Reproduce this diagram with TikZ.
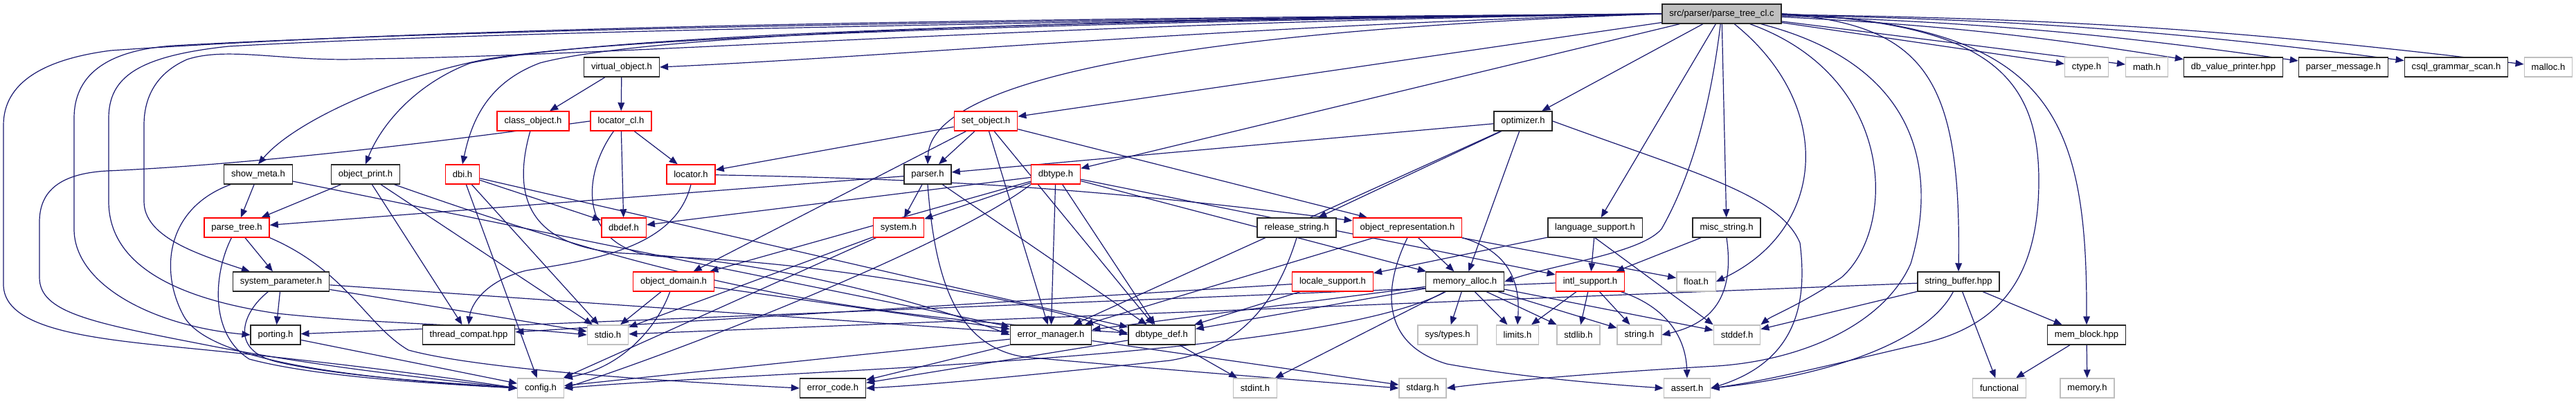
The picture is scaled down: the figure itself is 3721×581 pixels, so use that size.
\documentclass[tikz,border=0pt]{standalone}
\usepackage{fontspec}
\setmainfont{Liberation Sans}
\usetikzlibrary{arrows.meta}
\definecolor{depblue}{HTML}{191970}
\definecolor{sysgray}{HTML}{BFBFBF}
\newcommand\hdrfont{\fontsize{9.3pt}{11pt}\selectfont}
\pgfdeclarelayer{edges}
\pgfsetlayers{edges,main}
\tikzset{
  hdr/.style={draw=black!85,line width=0.35mm,fill=white,minimum height=7mm,inner xsep=2.6mm,inner ysep=0pt,font=\hdrfont},
  hdr cut/.style={hdr,draw=red},
  hdr sys/.style={hdr,draw=sysgray},
  hdr src/.style={hdr,fill=sysgray},
  dep/.style={-{Triangle[length=3mm,width=2.4mm]},draw=depblue,line width=0.3mm},
}

\begin{document}
\begin{tikzpicture}[x=0.25mm,y=0.25mm]
  \useasboundingbox (0,0) rectangle (3721,581);
  \node[hdr src] (src) at (2487,561) {src/parser/parse\_tree\_cl.c};
  \node[hdr] (vobj) at (898,484) {virtual\_object.h};
  \node[hdr sys] (ctype) at (3014,484) {ctype.h};
  \node[hdr sys] (math) at (3101,484) {math.h};
  \node[hdr] (dbvalprint) at (3226,484) {db\_value\_printer.hpp};
  \node[hdr] (parsermsg) at (3385,484) {parser\_message.h};
  \node[hdr] (csqlscan) at (3548,484) {csql\_grammar\_scan.h};
  \node[hdr sys] (malloc) at (3681,484) {malloc.h};
  \node[hdr cut] (clsobj) at (770,406) {class\_object.h};
  \node[hdr cut] (loccl) at (897,406) {locator\_cl.h};
  \node[hdr cut] (setobj) at (1424,406) {set\_object.h};
  \node[hdr] (optimizer) at (2200,406) {optimizer.h};
  \node[hdr] (showmeta) at (373,329) {show\_meta.h};
  \node[hdr] (objprint) at (528,329) {object\_print.h};
  \node[hdr cut] (dbi) at (668,329) {dbi.h};
  \node[hdr cut] (locator) at (998,329) {locator.h};
  \node[hdr] (parser) at (1340,329) {parser.h};
  \node[hdr cut] (dbtype) at (1525,329) {dbtype.h};
  \node[hdr cut] (parsetree) at (342,252) {parse\_tree.h};
  \node[hdr cut] (dbdef) at (901,252) {dbdef.h};
  \node[hdr cut] (system) at (1298,252) {system.h};
  \node[hdr] (relstr) at (1873,252) {release\_string.h};
  \node[hdr cut] (objrep) at (2033,252) {object\_representation.h};
  \node[hdr] (langsup) at (2304,252) {language\_support.h};
  \node[hdr] (miscstr) at (2494,252) {misc\_string.h};
  \node[hdr] (sysparam) at (406,174) {system\_parameter.h};
  \node[hdr cut] (objdomain) at (973,174) {object\_domain.h};
  \node[hdr cut] (localesup) at (1925,174) {locale\_support.h};
  \node[hdr] (memalloc) at (2116,174) {memory\_alloc.h};
  \node[hdr cut] (intlsup) at (2297,174) {intl\_support.h};
  \node[hdr sys] (float) at (2450,174) {float.h};
  \node[hdr] (strbuf) at (2829,174) {string\_buffer.hpp};
  \node[hdr] (porting) at (398,97) {porting.h};
  \node[hdr] (thread) at (677,97) {thread\_compat.hpp};
  \node[hdr sys] (stdio) at (878,97) {stdio.h};
  \node[hdr] (errmgr) at (1518,97) {error\_manager.h};
  \node[hdr] (dbtypedef) at (1678,97) {dbtype\_def.h};
  \node[hdr sys] (systypes) at (2091,97) {sys/types.h};
  \node[hdr sys] (limits) at (2192,97) {limits.h};
  \node[hdr sys] (stdlib) at (2280,97) {stdlib.h};
  \node[hdr sys] (string) at (2368,97) {string.h};
  \node[hdr sys] (stddef) at (2509,97) {stddef.h};
  \node[hdr] (memblock) at (3014,97) {mem\_block.hpp};
  \node[hdr sys] (config) at (781,20) {config.h};
  \node[hdr] (errcode) at (1203,20) {error\_code.h};
  \node[hdr sys] (stdint) at (1813,20) {stdint.h};
  \node[hdr sys] (stdarg) at (2055,20) {stdarg.h};
  \node[hdr sys] (assert) at (2437,20) {assert.h};
  \node[hdr sys] (functional) at (2888,20) {functional};
  \node[hdr sys] (memory) at (3015,20) {memory.h};

  \begin{pgfonlayer}{edges}
    \foreach \u/\v in {vobj/clsobj,vobj/loccl,loccl/locator,loccl/dbdef,
      dbi/stdio,dbi/dbdef,dbi/config,dbi/dbtypedef,
      showmeta/parsetree,showmeta/errmgr,objprint/parsetree,objprint/thread,objprint/stdio,
      parsetree/sysparam,sysparam/porting,sysparam/errmgr,sysparam/stdio,porting/config,
      objdomain/stdio,objdomain/errmgr,system/config,system/stdio,
      dbtype/system,dbtype/dbdef,dbtype/errmgr,dbtype/dbtypedef,dbtype/objdomain,dbtype/memalloc,dbtype/intlsup,
      parser/parsetree,parser/system,parser/dbtypedef,
      setobj/locator,setobj/parser,setobj/objdomain,setobj/errmgr,setobj/dbtypedef,setobj/objrep,
      optimizer/parser,optimizer/relstr,optimizer/memalloc,optimizer/errmgr,
      objrep/memalloc,objrep/float,objrep/errmgr,
      langsup/localesup,langsup/intlsup,miscstr/intlsup,localesup/dbtypedef,localesup/thread,
      memalloc/systypes,memalloc/limits,memalloc/stdlib,memalloc/string,memalloc/stddef,memalloc/dbtypedef,memalloc/stdint,memalloc/errmgr,
      intlsup/limits,intlsup/stdlib,intlsup/string,intlsup/porting,
      errmgr/config,errmgr/errcode,errmgr/stdarg,dbtypedef/stdint,dbtypedef/errcode,
      strbuf/memblock,strbuf/functional,strbuf/stddef,strbuf/stdio,memblock/functional,memblock/memory,
      src/setobj,src/dbtype,src/optimizer,src/langsup,src/miscstr,src/ctype,src/math}{
      \draw[dep] (\u) -- (\v);
    }
    \foreach \v in {dbvalprint,parsermsg,csqlscan,malloc}{
      \draw[dep] (src) to[bend left=3] (\v);
    }
    % long ways round on the left
    \draw[dep] (src.west) .. controls (1500,554) and (700,545) .. (160,508)
      .. controls (60,495) and (5,460) .. (5,400) -- (5,170)
      .. controls (5,100) and (150,90) .. (300,75) .. controls (500,55) and (650,35) .. (config.west);
    \draw[dep] (src.west) .. controls (1500,552) and (700,540) .. (250,515)
      .. controls (150,508) and (107,470) .. (107,410) -- (107,250)
      .. controls (107,170) and (220,110) .. (porting.west);
    \draw[dep] (src.west) .. controls (1500,550) and (700,535) .. (330,514)
      .. controls (200,500) and (157,470) .. (157,410) -- (157,290)
      .. controls (157,200) and (250,150) .. (400,128) .. controls (550,112) and (700,112) .. (stdio.west);
    \draw[dep] (src.west) .. controls (1500,548) and (900,500) .. (531,496)
      .. controls (420,490) and (330,515) .. (270,495) .. controls (225,475) and (208,440) .. (208,400) -- (208,290)
      .. controls (208,240) and (280,215) .. (sysparam);
    \draw[dep] (loccl.west) .. controls (700,385) and (400,345) .. (155,334)
      .. controls (80,330) and (57,300) .. (57,260) -- (57,180)
      .. controls (57,130) and (130,115) .. (290,84) .. controls (450,52) and (620,34) .. (config.west);
    \draw[dep] (src.west) .. controls (1600,550) and (900,530) .. (700,495) .. controls (550,465) and (420,400) .. (showmeta.north);
    \draw[dep] (src.west) .. controls (1600,552) and (900,535) .. (680,490) .. controls (600,460) and (550,400) .. (objprint.north);
    \draw[dep] (src.west) .. controls (1600,554) and (950,535) .. (780,490) .. controls (700,460) and (680,400) .. (dbi.north);
    \draw[dep] (src.west) .. controls (1800,545) and (1300,500) .. (vobj.east);
    \draw[dep] (src.west) .. controls (1800,540) and (1345,480) .. (parser.north);
    % fan to the right
    \draw[dep] (src) .. controls (2470,420) and (2440,320) .. (2400,250) .. controls (2370,215) and (2250,200) .. (memalloc.east);
    \draw[dep] (src) .. controls (2650,430) and (2640,250) .. (float.east);
    \draw[dep] (src) .. controls (2740,470) and (2740,250) .. (2660,180) .. controls (2600,140) and (2560,125) .. (stddef.north east);
    \draw[dep] (src) .. controls (2800,480) and (2790,300) .. (2760,200) .. controls (2720,110) and (2600,60) .. (2480,52)
      .. controls (2300,42) and (2150,28) .. (stdarg.east);
    \draw[dep] (src.east) .. controls (2780,545) and (2833,470) .. (strbuf.north);
    \draw[dep] (src.east) .. controls (2860,548) and (2945,480) .. (2945,320) .. controls (2945,170) and (2880,105) .. (2766,82)
      .. controls (2650,55) and (2550,30) .. (assert.east);
    \draw[dep] (src.east) .. controls (2960,545) and (3015,420) .. (memblock.north);
    % the rest
    \draw[dep] (loccl) .. controls (835,320) and (840,215) .. (960,210) .. controls (1250,200) and (1550,130) .. (dbtypedef.west);
    \draw[dep] (clsobj) .. controls (740,300) and (760,225) .. (900,215) .. controls (1150,205) and (1400,120) .. (errmgr.west);
    \draw[dep] (locator) to[bend left=3] (objrep);
    \draw[dep] (locator.south) .. controls (975,220) and (850,205) .. (760,190) .. controls (700,175) and (680,140) .. (thread.north);
    \draw[dep] (showmeta) .. controls (240,280) and (230,190) .. (265,125) .. controls (300,60) and (500,35) .. (config.west);
    \draw[dep] (objprint) to[bend right=8] (dbtypedef);
    \draw[dep] (parsetree) .. controls (310,190) and (300,100) .. (360,62) .. controls (450,38) and (600,28) .. (config.west);
    \draw[dep] (parsetree.south east) .. controls (500,190) and (530,110) .. (590,75) .. controls (700,45) and (1000,28) .. (errcode.west);
    \draw[dep] (sysparam) .. controls (350,130) and (330,75) .. (400,58) .. controls (500,35) and (650,28) .. (config.west);
    \draw[dep] (objdomain) .. controls (950,110) and (900,50) .. (config.north east);
    \draw[dep] (dbtype.south west) .. controls (1380,230) and (1000,80) .. (config.east);
    \draw[dep] (parser.south) .. controls (1350,180) and (1380,80) .. (1480,65) .. controls (1700,45) and (1900,30) .. (stdarg.west);
    \draw[dep] (optimizer.east) .. controls (2450,330) and (2570,300) .. (2600,230) .. controls (2610,150) and (2600,60) .. (assert.east);
    \draw[dep] (relstr.south) .. controls (1840,130) and (1780,75) .. (1690,60) .. controls (1500,40) and (1350,25) .. (errcode.east);
    \draw[dep] (objrep.south east) .. controls (2190,215) and (2195,160) .. (limits.north);
    \draw[dep] (objrep.south) .. controls (2000,170) and (1990,85) .. (2090,55) .. controls (2200,35) and (2330,25) .. (assert.west);
    \draw[dep] (langsup.south) -- (stddef.north west);
    \draw[dep] (miscstr.south) .. controls (2505,160) and (2480,115) .. (string.east);
    \draw[dep] (intlsup) .. controls (2400,140) and (2435,100) .. (assert.north);
    \draw[dep] (memalloc) .. controls (1900,60) and (1100,45) .. (config.east);
    \draw[dep] (strbuf) .. controls (2780,80) and (2620,35) .. (assert.east);
  \end{pgfonlayer}
\end{tikzpicture}
\end{document}
